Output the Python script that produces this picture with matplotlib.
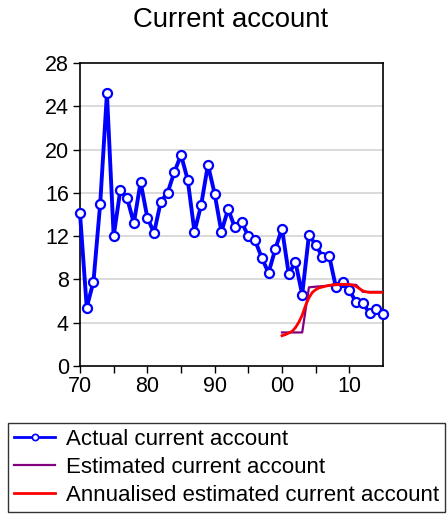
import matplotlib
matplotlib.use("Agg")
import matplotlib.pyplot as plt
import numpy as np

plt.rcParams['font.family'] = ['Liberation Sans', 'DejaVu Sans']

years = list(range(1970, 2016))
actual = [14.1, 5.4, 7.8, 15.0, 25.2, 12.0, 16.3, 15.5, 13.2, 17.0,
          13.7, 12.3, 15.2, 16.0, 17.9, 19.5, 17.2, 12.4, 14.9, 18.6,
          15.9, 12.4, 14.5, 12.8, 13.3, 12.0, 11.6, 10.0, 8.6, 10.8,
          12.7, 8.5, 9.6, 6.6, 12.1, 11.2, 10.1, 10.2, 7.3, 7.8,
          7.0, 5.9, 5.8, 4.9, 5.3, 4.8]

est_years = list(range(2000, 2016))
estimated = [3.1, 3.1, 3.1, 3.1, 7.27, 7.33, 7.38, 7.43, 7.48, 7.5,
             7.5, 7.5, 6.85, 6.85, 6.85, 6.85]

ann_years = [2000.0, 2000.5, 2001.0, 2001.5, 2002.0, 2002.5, 2003.0, 2003.5,
             2004.0, 2004.5, 2005.0, 2005.5, 2006.0, 2006.5, 2007.0, 2007.5,
             2008.0, 2008.5, 2009.0, 2009.5, 2010.0, 2010.5, 2011.0, 2011.5,
             2012.0, 2012.5, 2013.0, 2013.5, 2014.0, 2014.5, 2015.0]
annualised = [2.80, 2.90, 3.05, 3.20, 3.55, 4.05, 4.70, 5.60,
              6.30, 6.80, 7.05, 7.22, 7.30, 7.38, 7.45, 7.50,
              7.53, 7.55, 7.55, 7.55, 7.53, 7.48, 7.35, 7.15,
              6.95, 6.85, 6.80, 6.80, 6.80, 6.80, 6.80]

xticks = [1970, 1980, 1990, 2000, 2010]
xticklabels = ["70", "80", "90", "00", "10"]
yticks = [0, 4, 8, 12, 16, 20, 24, 28]

fig = plt.figure(figsize=(4.47, 5.14), dpi=100)
ax = fig.add_axes([80/447, 1-366/514, (383-80)/447, (366-63)/514])

ax.set_xlim(1970, 2015)
ax.set_ylim(0, 28)
ax.set_yticks(yticks)
ax.set_xticks(xticks)
ax.set_xticklabels(xticklabels)
ax.set_xticks(list(range(1975, 2015, 10)), minor=True)
for y in yticks[1:-1]:
    ax.axhline(y, color='#d4d4d4', lw=1.2, zorder=0)

l1, = ax.plot(years, actual, color='#0000ff', lw=2.8, marker='o', ms=6.5,
              mfc='white', mec='#0000ff', mew=1.6, clip_on=False, zorder=3,
              label='Actual current account')
l2, = ax.plot(est_years, estimated, color='#800080', lw=1.6, zorder=4,
              label='Estimated current account')
l3, = ax.plot(ann_years, annualised, color='#ff0000', lw=2.0, zorder=5,
              label='Annualised estimated current account')

for s in ax.spines.values():
    s.set_color('black')
    s.set_linewidth(1.2)
ax.tick_params(axis='both', which='both', direction='out', color='black',
               labelsize=15.5, length=5, width=1)
ax.tick_params(axis='x', which='minor', length=5)
ax.tick_params(axis='y', right=False, pad=3)
ax.tick_params(axis='x', top=False, pad=2)

fig.text(231/447, 1-20/514, 'Current account', fontsize=19.8,
         ha='center', va='center')

leg_handles = [
    plt.Line2D([], [], color='#0000ff', lw=2, marker='o', ms=4.5,
               mfc='white', mec='#0000ff', mew=1.2),
    plt.Line2D([], [], color='#800080', lw=1.6),
    plt.Line2D([], [], color='#ff0000', lw=2.0),
]
leg = fig.legend(leg_handles, [l1.get_label(), l2.get_label(), l3.get_label()],
                 loc='upper left', bbox_to_anchor=(8/447, 1-423/514),
                 fontsize=16, frameon=True, fancybox=False,
                 handlelength=1.85, handletextpad=0.48, labelspacing=0.3,
                 borderpad=0.28, borderaxespad=0)
leg.get_frame().set_edgecolor('black')
leg.get_frame().set_linewidth(1)

fig.savefig('out.png', dpi=100)
